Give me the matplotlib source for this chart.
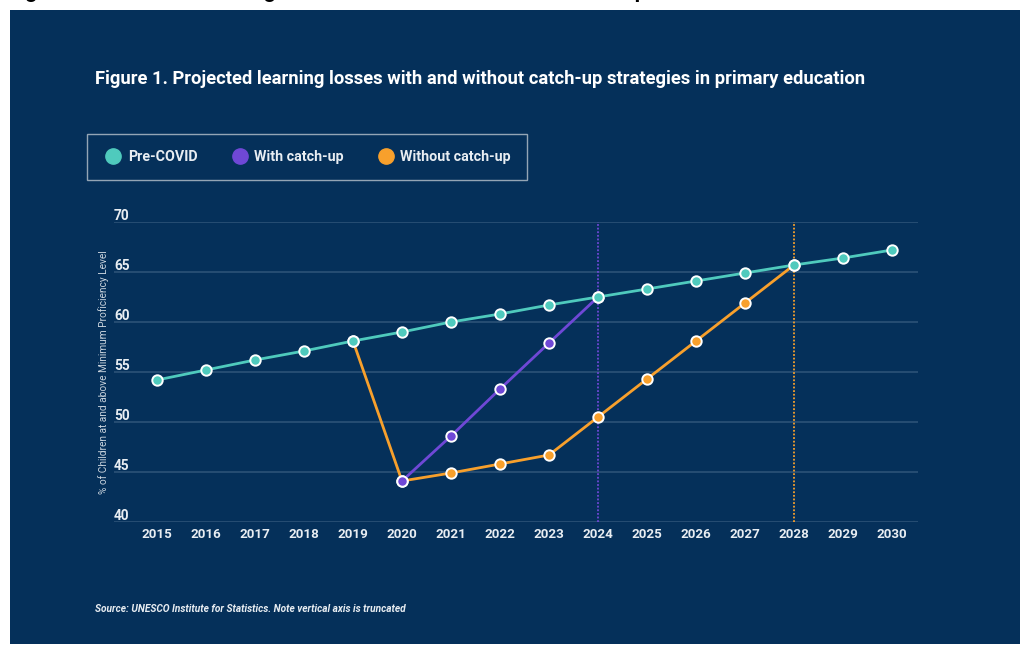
import matplotlib
matplotlib.use('Agg')
import matplotlib.pyplot as plt
from matplotlib.lines import Line2D
from matplotlib.patches import Rectangle
from matplotlib.transforms import blended_transform_factory, offset_copy

plt.rcParams['font.family'] = ['Roboto', 'DejaVu Sans']

# Series values (% of children at and above minimum proficiency level)
years = list(range(2015, 2031))
pre_covid = [54.2, 55.2, 56.2, 57.1, 58.1, 59.0, 60.0, 60.8, 61.7, 62.5,
             63.3, 64.1, 64.9, 65.7, 66.4, 67.2]
with_years = [2020, 2021, 2022, 2023, 2024]
with_catchup = [44.1, 48.6, 53.3, 57.9, 62.5]
without_years = [2019, 2020, 2021, 2022, 2023, 2024, 2025, 2026, 2027, 2028]
without_catchup = [58.1, 44.1, 44.9, 45.8, 46.7, 50.5, 54.3, 58.1, 61.9, 65.7]
recovery_years = [2024, 2028]
y_ticks = [40, 45, 50, 55, 60, 65, 70]

NAVY = '#05305a'
TEAL = '#4fcabd'
PURPLE = '#6f48d6'
ORANGE = '#f8a02c'
GRID = '#2c5278'
TEXT = '#e8edf2'

W, H = 1028, 649
fig = plt.figure(figsize=(W / 100, H / 100), dpi=100, facecolor='white')

# navy card behind everything
fig.add_artist(Rectangle((10 / W, 5 / H), 1010 / W, 634 / H,
                         transform=fig.transFigure, facecolor=NAVY,
                         edgecolor='none', zorder=0))

# page heading above the card (only its lower edge fits on the page)
fig.text(8 / W, 1 + 1.5 / H,
         'Figure 1: Simulated learning losses with and without a full catch-up',
         color='black', fontsize=15.2, fontweight='bold', va='baseline', ha='left')

fig.text(95 / W, 1 - 79.5 / H,
         'Figure 1. Projected learning losses with and without catch-up strategies in primary education',
         color='white', fontsize=13.2, fontweight='bold', va='center', ha='left')

# plot area: x 114..918 px, y 222..522 px
ax = fig.add_axes([114 / W, 1 - 522 / H, 804 / W, 300 / H])
ax.set_facecolor('none')
ax.set_xlim(2015 - 43 / 49, 2015 + 761 / 49)
ax.set_ylim(40, 70)
for s in ax.spines.values():
    s.set_visible(False)

for t in y_ticks:
    ax.axhline(t, color=GRID, lw=1.2, zorder=1)
ax.set_yticks([])
trans = offset_copy(blended_transform_factory(ax.transAxes, ax.transData),
                    fig=fig, x=0, y=-0.5, units='points')
for t in y_ticks:
    ax.text(0.0, t, str(t), transform=trans, color=TEXT, fontsize=9.8,
            fontweight='bold', ha='left', va='bottom')

ax.set_xticks(years)
ax.set_xticklabels([str(y) for y in years], color=TEXT, fontsize=9.6,
                   fontweight='bold')
ax.tick_params(axis='x', length=0, pad=4)

ax.set_ylabel('% of Children at and above Minimum Proficiency Level',
              color='#c9d3dd', fontsize=7.3)
ax.yaxis.set_label_coords(-0.0062, 0.5)

# recovery years
ax.axvline(recovery_years[0], color=PURPLE, lw=1.3, ls=(0, (1, 1)), zorder=2)
ax.axvline(recovery_years[1], color=ORANGE, lw=1.3, ls=(0, (1, 1)), zorder=2)

mk = dict(marker='o', markersize=7.5, markeredgecolor='white',
          markeredgewidth=1.4, lw=2, clip_on=False)
ax.plot(without_years, without_catchup, color=ORANGE, zorder=3, **mk)
ax.plot(with_years, with_catchup, color=PURPLE, zorder=4, **mk)
ax.plot(years, pre_covid, color=TEAL, zorder=5, **mk)

handles = [Line2D([], [], ls='none', marker='o', markersize=11,
                  markerfacecolor=c, markeredgecolor=c)
           for c in (TEAL, PURPLE, ORANGE)]
leg = fig.legend(handles, ['Pre-COVID', 'With catch-up', 'Without catch-up'],
                 loc='upper left', bbox_to_anchor=(87 / W, 1 - 134 / H),
                 ncol=3, frameon=True, fancybox=False,
                 prop={'weight': 'bold', 'size': 10.3},
                 borderpad=1.12, handlelength=1.45, handletextpad=0.3,
                 columnspacing=2.2, borderaxespad=0)
leg.get_frame().set_facecolor('none')
leg.get_frame().set_edgecolor('#b9c3cd')
leg.get_frame().set_linewidth(1)
for txt in leg.get_texts():
    txt.set_color(TEXT)

fig.text(95 / W, 1 - 609 / H,
         'Source: UNESCO Institute for Statistics. Note vertical axis is truncated',
         color=TEXT, fontsize=7.3, fontstyle='italic', fontweight='bold',
         va='center', ha='left')

fig.savefig('out.png', dpi=100, facecolor='white')
